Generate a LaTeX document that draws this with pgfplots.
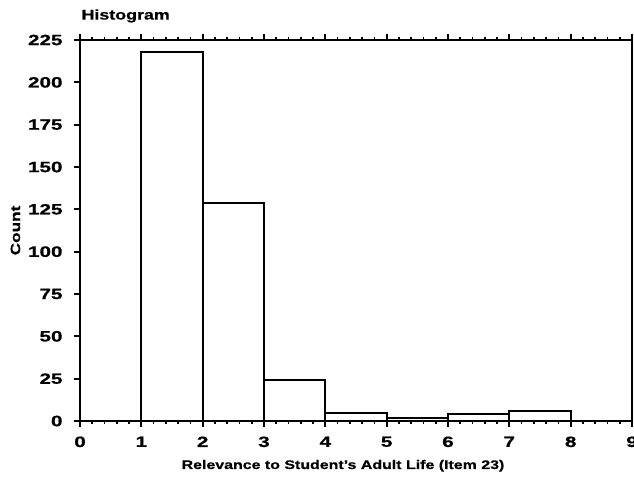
\documentclass[border=0pt]{standalone}
\usepackage{fontspec}
\setmainfont{Liberation Sans}[FakeStretch=1.28, BoldFeatures={FakeBold=0.6}]
\newfontfamily\tickfont{Liberation Sans Bold}[FakeStretch=1.38, FakeBold=0.8]
\usepackage{pgfplots}
\pgfplotsset{compat=1.18}
\begin{document}
\begin{tikzpicture}[x=1bp,y=1bp]
\begin{axis}[
  at={(0,0)}, anchor=south west,
  scale only axis,
  width=552bp, height=381bp,
  xmin=0, xmax=9, ymin=0, ymax=225,
  xtick={0,...,9},
  ytick={0,25,...,225},
  minor x tick num=4,
  xtick pos=both, ytick pos=left,
  tick align=outside,
  major tick length=6bp, minor tick length=3bp,
  every tick/.style={black, line width=1.8pt},
  axis line style={line width=2.2pt},
  /pgf/number format/assume math mode=true,
  tick label style={font=\fontsize{15}{15}\selectfont\tickfont},
  xticklabel style={yshift=-6bp},
  yticklabel style={xshift=-8bp},
  xlabel={Relevance to Student's Adult Life (Item 23)},
  ylabel={Count},
  xlabel style={font=\fontsize{12.5}{13}\selectfont\bfseries, yshift=-6bp, xshift=-13bp},
  ylabel style={font=\fontsize{13.5}{14}\selectfont\bfseries, yshift=1bp},
  title={Histogram},
  title style={at={(0,1)}, anchor=south west, xshift=-2bp, yshift=8bp,
    font=\fontsize{14}{14}\selectfont\bfseries},
]
\addplot[ybar interval, fill=white, draw=black, line width=2pt]
  coordinates {(1,218) (2,129) (3,24) (4,5) (5,2) (6,4) (7,6) (8,6)};
\end{axis}
\pgfresetboundingbox
\useasboundingbox (-80bp,-60bp) rectangle (554bp,421bp);
\end{tikzpicture}
\end{document}
